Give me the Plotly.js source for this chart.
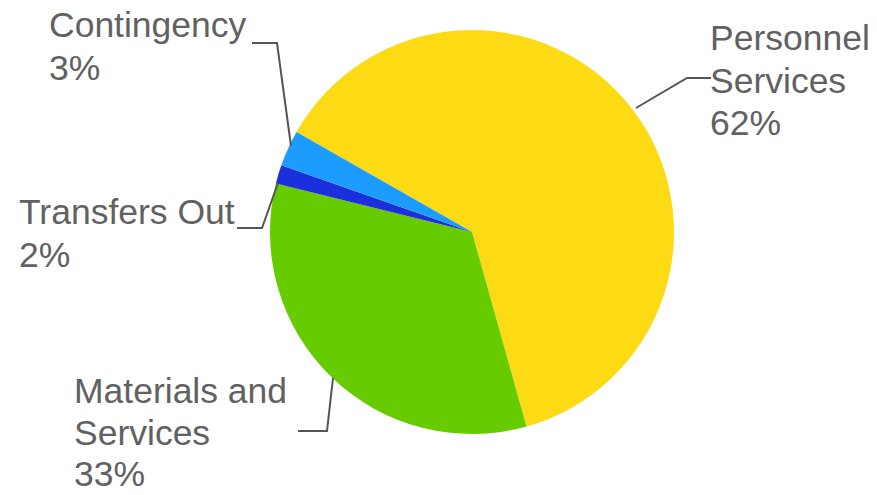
<!DOCTYPE html>
<html>
<head>
<meta charset="utf-8">
<script src="https://cdn.plot.ly/plotly-3.0.1.min.js"></script>
<style>html,body{margin:0;padding:0;background:#fff;}#chart{width:877px;height:495px;}</style>
</head>
<body>
<div id="chart"></div>
<script>
// Data
var categories = ["Personnel Services", "Materials and Services", "Transfers Out", "Contingency"];
var values = [62.4, 33.2, 1.5, 2.9];
var colors = ["#FCDB14", "#66CC00", "#1B2FDD", "#1C9CFE"];
var labelLines = [["Personnel", "Services"], ["Materials and", "Services"], ["Transfers Out"], ["Contingency"]];

var W = 877, H = 495;
function px(x) { return x / W; }
function py(y) { return 1 - y / H; }

var total = values.reduce(function (a, b) { return a + b; }, 0);
function pctText(v) { return Math.round(v / total * 100) + "%"; }

// Label layout (left x, first-line middle y, line gap in pixels), leader polylines
var labelPos = [
  { x: 708, y: 38, gap: 42.5 },
  { x: 72, y: 391, gap: 41.5 },
  { x: 17, y: 212, gap: 42.5 },
  { x: 47, y: 25, gap: 42.5 }
];
var leaders = [
  [[636, 108], [687, 78], [711, 78]],
  [[298, 431], [327, 431], [333, 378]],
  [[237, 228], [262, 228], [278, 183]],
  [[252, 43], [277, 43], [291, 146]]
];

var annotations = [];
categories.forEach(function (c, i) {
  var lines = labelLines[i].concat([pctText(values[i])]);
  lines.forEach(function (t, j) {
    annotations.push({
      text: t, xref: "paper", yref: "paper",
      x: px(labelPos[i].x), y: py(labelPos[i].y + j * labelPos[i].gap),
      xanchor: "left", yanchor: "middle", showarrow: false, align: "left",
      font: { family: "Liberation Sans, Arial, sans-serif", size: 35.5, color: "#616161" }
    });
  });
});

var shapes = leaders.map(function (pts) {
  var d = pts.map(function (p, k) { return (k ? "L" : "M") + px(p[0]) + "," + py(p[1]); }).join(" ");
  return { type: "path", xref: "paper", yref: "paper", path: d, line: { color: "#555555", width: 2 } };
});

var cx = 472, cy = 232, r = 202;
var trace = {
  type: "pie",
  labels: categories,
  values: values,
  sort: false,
  direction: "clockwise",
  rotation: -60.3,
  marker: { colors: colors, line: { width: 0 } },
  textinfo: "none",
  hoverinfo: "label+percent",
  domain: { x: [px(cx - r), px(cx + r)], y: [py(cy + r), py(cy - r)] }
};

var layout = {
  width: W, height: H,
  margin: { l: 0, r: 0, t: 0, b: 0 },
  showlegend: false,
  paper_bgcolor: "#ffffff",
  annotations: annotations,
  shapes: shapes
};

Plotly.newPlot("chart", [trace], layout, { displayModeBar: false, staticPlot: true });
</script>
</body>
</html>
